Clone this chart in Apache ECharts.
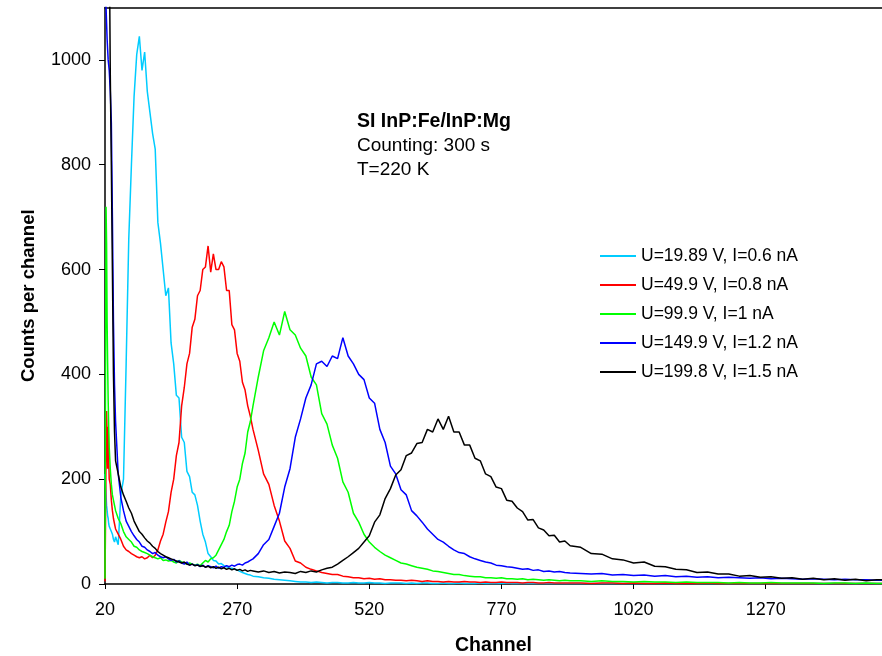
<!DOCTYPE html>
<html><head><meta charset="utf-8">
<script src="https://cdn.jsdelivr.net/npm/echarts@6/dist/echarts.min.js"></script>
<style>html,body{margin:0;padding:0;background:#fff}#c{width:882px;height:656px}</style>
</head><body><div id="c"></div>
<script>
// Channel grid (x values)
const channels = [
  20,21,22,23,24,25,26,27,28,
  30,32,34,36,38,40,
  45,50,55,60,65,70,75,80,85,90,95,100,105,110,115,120,125,130,135,140,
  145,150,155,160,165,170,175,180,185,190,195,200,205,210,215,220,225,230,235,240,
  245,250,255,260,265,270,275,280,285,290,295,300,
  310,320,330,340,350,360,370,380,390,400,410,420,430,440,450,460,470,480,490,500,
  510,520,530,540,550,560,570,580,590,600,610,620,630,640,650,660,670,680,690,700,
  710,720,730,740,750,760,770,780,790,800,810,820,830,840,850,860,870,880,890,900,
  920,940,960,980,1000,1020,1040,1060,1080,1100,1120,1140,1160,1180,1200,1220,1240,1260,1280,1300,
  1320,1340,1360,1380,1400,1420,1440,1460,1480,1490
];
const seriesNames = [
  'U=19.89 V, I=0.6 nA',
  'U=49.9 V, I=0.8 nA',
  'U=99.9 V, I=1 nA',
  'U=149.9 V, I=1.2 nA',
  'U=199.8 V, I=1.5 nA'
];
const cyanCounts = [
  210,190,170,150,140,130,125,115,110,
  105,100,95,85,80,90,
  75,170,200,420,660,800,930,1010,1045,980, 1015,940,900,860,830,690,650,600,550,565,
  460,420,360,355,280,270,215,205,175,170, 150,120,95,80,58,52,45,44,38,39,
  35,33,30,30,28,27,24,22,20,18, 17,15,
  14,12,11,9,8,7,6,5,4,4, 3,4,3,2,3,3,2,2,3,2,
  2,3,2,2,1,2,2,2,1,2, 1,2,2,1,1,2,1,1,2,1,
  1,1,2,1,1,1,1,2,1,1, 1,1,1,1,1,1,1,1,1,1,
  1,1,1,1,1,1,1,1,1,1, 1,1,1,1,1,1,1,1,1,1,
  1,1,1,1,1,1,1,1,1,1
];
const redCounts = [
  5,120,250,330,280,220,300,240,200,
  190,160,140,125,115,105,
  95,85,72,65,62,58,55,52,50,52, 48,50,55,50,55,65,82,95,118,138,
  175,200,245,270,340,375,420,440,490,505, 550,560,600,605,645,595,630,600,600,615,
  605,560,560,495,485,440,425,385,370,340, 320,295,
  255,210,190,150,120,82,68,44,40,32, 28,25,22,20,18,18,15,14,12,12,
  10,11,9,10,8,8,7,7,6,7, 6,5,6,5,5,4,5,4,4,5,
  4,4,3,4,3,3,4,3,3,3, 2,3,3,2,2,3,2,2,2,2,
  2,1,2,2,1,2,1,1,2,1, 1,1,2,1,1,1,1,1,1,1,
  1,1,1,1,1,1,1,1,1,1
];
const greenCounts = [
  10,400,720,650,500,420,350,300,260,
  220,190,170,160,150,140,
  125,115,100,90,85,80,72,70,65,62, 60,58,55,52,50,48,50,45,46,44,
  45,42,40,45,42,40,38,40,38,36, 38,35,40,45,42,48,50,55,65,75,
  85,100,112,138,158,185,200,230,250,290, 310,340,
  395,445,470,500,475,520,485,475,450,435, 395,380,325,305,265,240,195,175,135,118,
  95,80,70,62,55,50,45,40,38,35, 32,30,28,25,24,22,20,18,18,16,
  15,14,14,12,12,11,12,10,10,9, 10,8,9,8,7,8,7,6,7,6,
  6,5,6,5,5,4,5,4,4,3, 4,3,3,3,2,3,2,2,3,2,
  2,2,2,1,2,2,1,2,1,1
];
const blueCounts = [
  1300,1200,1100,1070,1040,1020,1000,990,980,
  940,880,700,500,380,310,
  210,165,140,120,110,100,92,85,80,72, 70,65,62,58,60,55,52,50,52,48,
  45,47,42,44,40,38,42,36,38,35, 37,33,36,32,35,33,31,34,30,33,
  32,35,33,36,34,37,38,36,40,42, 45,48,
  58,75,85,110,135,185,220,280,315,355, 380,420,425,415,435,430,470,435,420,400,
  390,355,345,295,270,225,210,180,170,140, 130,118,105,95,85,80,72,65,60,58,
  52,48,45,42,40,36,35,33,32,30, 28,29,26,27,24,25,23,24,22,21,
  20,19,20,17,18,16,17,15,16,14, 15,13,14,12,13,12,11,12,10,11,
  10,9,10,9,8,9,8,8,7,7
];
const blackCounts = [
  1300,1300,1300,1300,1300,1300,1300,1300,1250,
  970,800,600,400,290,235,
  210,185,170,158,145,135,120,110,100,95, 88,82,78,72,68,62,58,55,52,50,
  48,46,44,42,40,42,38,36,38,35, 36,34,35,32,34,31,33,30,32,29,
  31,28,30,27,29,26,28,25,27,24, 26,25,
  23,25,22,24,21,23,22,20,24,22, 25,23,27,30,32,38,45,52,60,68,
  80,92,118,132,163,182,208,218,245,250, 268,270,295,290,315,295,320,290,290,265,
  265,240,235,210,205,185,182,160,158,145, 138,122,123,107,103,92,93,80,82,73,
  70,58,57,48,46,40,42,34,33,28, 27,22,23,19,19,15,16,13,14,11,
  12,9,11,8,10,7,9,6,8,8
];
const allCounts = [cyanCounts, redCounts, greenCounts, blueCounts, blackCounts];
const colors = ['#00CCFF', '#FF0000', '#00FF00', '#0000FF', '#000000'];
const annotationLines = ['SI InP:Fe/InP:Mg', 'Counting: 300 s', 'T=220 K'];

const FONT = 'Liberation Sans, Arial, sans-serif';
const chart = echarts.init(document.getElementById('c'), null, {renderer: 'canvas'});

const series = seriesNames.map((name, i) => ({
  name: name,
  type: 'line',
  data: channels.map((c, k) => [c, allCounts[i][k]]),
  showSymbol: false,
  symbol: 'none',
  clip: true,
  lineStyle: {color: colors[i], width: 1.5},
  itemStyle: {color: colors[i]},
  animation: false
}));

chart.setOption({
  backgroundColor: '#fff',
  animation: false,
  grid: {left: 105, right: 0, top: 7.5, bottom: 72, containLabel: false, outerBoundsMode: 'none'},
  xAxis: [{
    type: 'value', min: 20, max: 1490, interval: 250,
    name: 'Channel', nameLocation: 'middle', nameGap: 52,
    nameTextStyle: {fontFamily: FONT, fontSize: 19.5, fontWeight: 'bold', color: '#000'},
    axisLine: {show: true, onZero: false, lineStyle: {color: '#000', width: 1.5}},
    axisTick: {show: true, inside: false, length: 5, lineStyle: {color: '#000'}},
    axisLabel: {fontFamily: FONT, fontSize: 18, color: '#000', margin: 17, showMaxLabel: false,
      formatter: v => String(v)},
    splitLine: {show: false}
  }, {
    type: 'value', position: 'top', min: 20, max: 1490,
    axisLine: {show: true, onZero: false, lineStyle: {color: '#000', width: 1.5}},
    axisTick: {show: false}, axisLabel: {show: false}, splitLine: {show: false}
  }],
  yAxis: {
    type: 'value', min: 0, max: 1100, interval: 200,
    name: 'Counts per channel', nameLocation: 'middle', nameGap: 67,
    nameTextStyle: {fontFamily: FONT, fontSize: 18.5, fontWeight: 'bold', color: '#000'},
    axisLine: {show: true, onZero: false, lineStyle: {color: '#000', width: 1.5}},
    axisTick: {show: true, inside: false, length: 6, lineStyle: {color: '#000'}},
    axisLabel: {fontFamily: FONT, fontSize: 18, color: '#000', margin: 14, showMaxLabel: false,
      formatter: v => String(v)},
    splitLine: {show: false}
  },
  legend: {
    orient: 'vertical', left: 595, top: 242,
    icon: 'rect', itemWidth: 36, itemHeight: 2, itemGap: 11,
    textStyle: {fontFamily: FONT, fontSize: 17.5, color: '#000', lineHeight: 18},
    data: seriesNames
  },
  graphic: annotationLines.map((t, i) => ({
    type: 'text', left: 357, top: 112 + i * 24,
    style: {text: t, font: (i === 0 ? 'bold 19.5px ' : '19px ') + FONT, fill: '#000'}
  })),
  series: series
});
</script>
</body></html>
